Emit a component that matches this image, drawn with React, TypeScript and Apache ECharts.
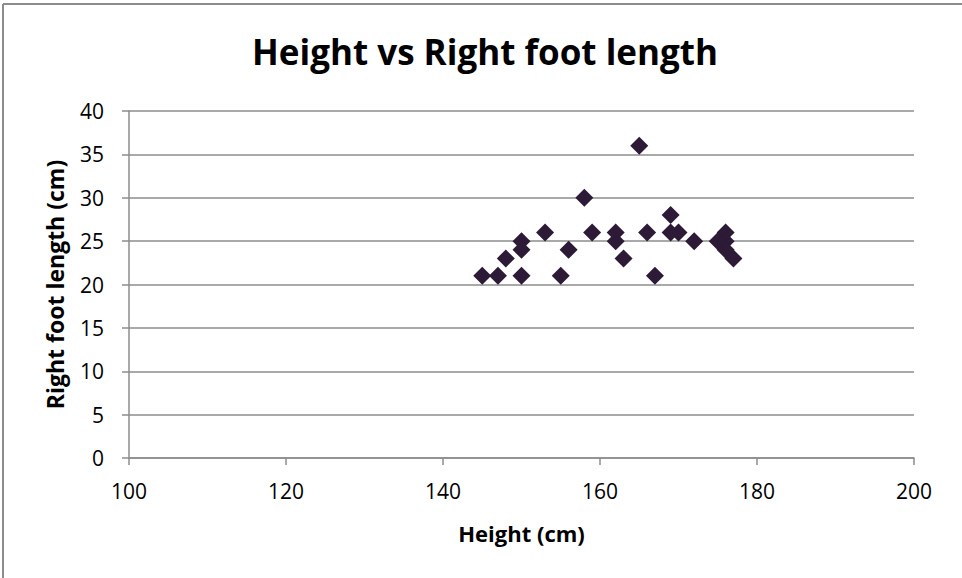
import React, { useEffect, useRef } from "react";
import * as echarts from "echarts";

const heights = [145, 147, 148, 150, 150, 150, 153, 155, 156, 158, 159, 162, 162, 163, 165, 166, 167, 169, 169, 170, 172, 175, 176, 176, 176, 177];
const footLengths = [21, 21, 23, 25, 24, 21, 26, 21, 24, 30, 26, 26, 25, 23, 36, 26, 21, 28, 26, 26, 25, 25, 26, 25, 24, 23];

const titleText = "Height vs Right foot length";
const xName = "Height (cm)";
const yName = "Right foot length (cm)";

export default function App() {
  const ref = useRef<HTMLDivElement>(null);
  useEffect(() => {
    if (!ref.current) return;
    const chart = echarts.init(ref.current, null, { renderer: "svg" });
    const font = "'Open Sans', 'Liberation Sans', sans-serif";
    const gridColor = "#8c8c8c";
    chart.setOption({
      animation: false,
      backgroundColor: "#ffffff",
      title: {
        text: titleText,
        left: 480,
        textAlign: "center",
        top: 29,
        textStyle: { fontFamily: font, fontSize: 35, fontWeight: "bold", color: "#000" },
      },
      grid: { left: 129, right: 48, top: 111, bottom: 120 },
      xAxis: {
        type: "value",
        min: 100,
        max: 200,
        interval: 20,
        name: xName,
        nameLocation: "middle",
        nameGap: 64,
        nameTextStyle: { fontFamily: font, fontSize: 22, fontWeight: "bold", color: "#000" },
        axisLine: { show: true, lineStyle: { color: gridColor, width: 1.5 } },
        axisTick: { show: true, length: 7, lineStyle: { color: gridColor, width: 1.5 } },
        axisLabel: { fontFamily: font, fontSize: 21, color: "#000", margin: 22 },
        splitLine: { show: false },
      },
      yAxis: {
        type: "value",
        min: 0,
        max: 40,
        interval: 5,
        name: yName,
        nameLocation: "middle",
        nameGap: 63,
        nameTextStyle: { fontFamily: font, fontSize: 23, fontWeight: "bold", color: "#000" },
        axisLine: { show: true, lineStyle: { color: gridColor, width: 1.5 } },
        axisTick: { show: true, length: 7, lineStyle: { color: gridColor, width: 1.5 } },
        axisLabel: { fontFamily: font, fontSize: 21, color: "#000", margin: 25 },
        splitLine: { show: true, lineStyle: { color: gridColor, width: 1.5 } },
      },
      series: [
        {
          type: "scatter",
          symbol: "diamond",
          symbolSize: 18,
          itemStyle: { color: "#2c1a36", opacity: 1 },
          data: heights.map((h, i) => [h, footLengths[i]]),
        },
      ],
      graphic: [
        { type: "line", shape: { x1: 3, y1: 4, x2: 3, y2: 578 }, style: { stroke: "#8c8c8c", lineWidth: 2 } },
        { type: "line", shape: { x1: 3, y1: 4, x2: 962, y2: 4 }, style: { stroke: "#8c8c8c", lineWidth: 2 } },
      ],
    });
    return () => chart.dispose();
  }, []);
  return <div ref={ref} style={{ position: "fixed", left: 0, top: 0, width: 962, height: 578 }} />;
}
